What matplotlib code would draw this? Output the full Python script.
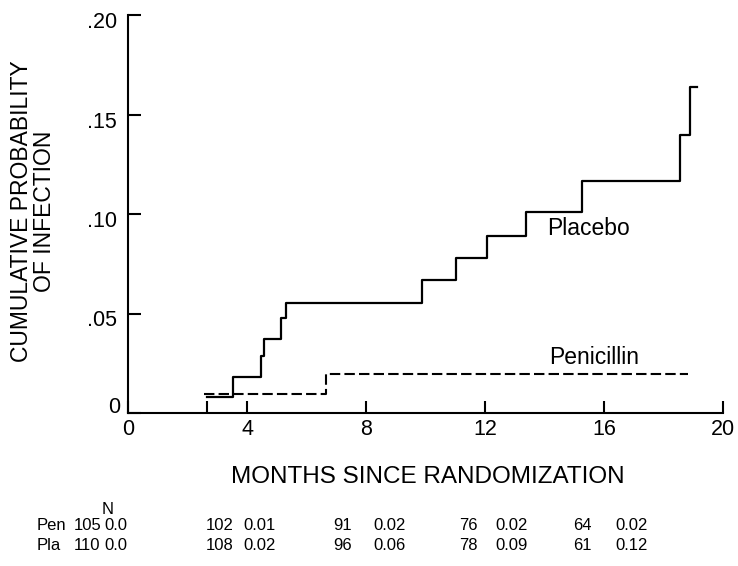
import matplotlib as mpl
import matplotlib.pyplot as plt
import matplotlib.transforms as mtransforms

mpl.rcParams["font.family"] = ["Liberation Sans", "DejaVu Sans"]

# Kaplan-Meier style step curves
placebo_months = [2.64, 3.54, 4.46, 4.58, 5.14, 5.31, 9.87, 11.01, 12.07, 13.37, 15.27, 18.57, 18.90, 19.12]
placebo_prob = [0.008, 0.018, 0.0286, 0.0374, 0.0475, 0.0555, 0.0667, 0.0779, 0.0887, 0.1009, 0.1166, 0.1397, 0.1636, 0.1636]

penicillin_months = [2.57, 6.64, 18.84]
penicillin_prob = [0.0094, 0.0195, 0.0195]

x_ticks = [0, 4, 8, 12, 16, 20]
y_ticks = [0, 0.05, 0.10, 0.15, 0.20]
y_tick_labels = ["0", ".05", ".10", ".15", ".20"]

# numbers at risk table
row_labels = ["Pen", "Pla"]
pen_n = [105, 102, 91, 76, 64]
pen_p = ["0.0", "0.01", "0.02", "0.02", "0.02"]
pla_n = [110, 108, 96, 78, 61]
pla_p = ["0.0", "0.02", "0.06", "0.09", "0.12"]

W, H = 738, 566
fig = plt.figure(figsize=(W / 100, H / 100), dpi=100)
ax = fig.add_axes([128 / W, 1 - 413 / H, 595 / W, 398 / H])

ax.step(placebo_months, placebo_prob, where="post", color="black", lw=1.6)
ax.step(penicillin_months, penicillin_prob, where="post", color="black", lw=1.5,
        dashes=(5, 2))

ax.set_xlim(0, 20)
ax.set_ylim(0, 0.20)
ax.spines["top"].set_visible(False)
ax.spines["right"].set_visible(False)
for s in ("left", "bottom"):
    ax.spines[s].set_linewidth(1.5)

ax.set_xticks(x_ticks)
ax.set_xticklabels([str(t) for t in x_ticks])
ax.set_yticks(y_ticks)
ax.set_yticklabels(y_tick_labels)
# censoring mark on the axis where follow-up starts
ax.set_xticks([placebo_months[0]], minor=True)
ax.tick_params(axis="both", which="both", direction="in", length=9, width=1.5,
               labelsize=15.5)
ax.tick_params(axis="x", which="both", pad=4)
ax.tick_params(axis="y", pad=8)

down = mtransforms.ScaledTranslation(0, -5 / 100, fig.dpi_scale_trans)
up = mtransforms.ScaledTranslation(3 / 100, 8 / 100, fig.dpi_scale_trans)
for lab in ax.get_yticklabels():
    if lab.get_text() == "0":
        lab.set_transform(lab.get_transform() + up)
    else:
        lab.set_transform(lab.get_transform() + down)

ax.text(14.1, 0.0927, "Placebo", fontsize=16.5, va="center", ha="left")
ax.text(14.15, 0.028, "Penicillin", fontsize=16.5, va="center", ha="left")

fig.text(33 / W, 1 - 211 / H, "CUMULATIVE PROBABILITY\nOF INFECTION",
         rotation=90, ha="center", va="center", fontsize=16.5, linespacing=0.95)
fig.text(428 / W, 1 - 477 / H, "MONTHS SINCE RANDOMIZATION",
         ha="center", va="center", fontsize=17.5)

# table under the plot
col_n_x = [74, 206, 333, 459, 573]
col_p_x = [104, 243, 373, 495, 615]
row_y = [526, 545]
fs = 12
fig.text(102 / W, 1 - 509 / H, "N", fontsize=fs, va="center", ha="left")
for r, (lab, ns, ps) in enumerate(zip(row_labels, [pen_n, pla_n], [pen_p, pla_p])):
    y = 1 - row_y[r] / H
    fig.text(37 / W, y, lab, fontsize=fs, va="center", ha="left")
    for xn, xp, n, p in zip(col_n_x, col_p_x, ns, ps):
        fig.text(xn / W, y, str(n), fontsize=fs, va="center", ha="left")
        fig.text(xp / W, y, p, fontsize=fs, va="center", ha="left")

fig.savefig("out.png", dpi=100, facecolor="w")
